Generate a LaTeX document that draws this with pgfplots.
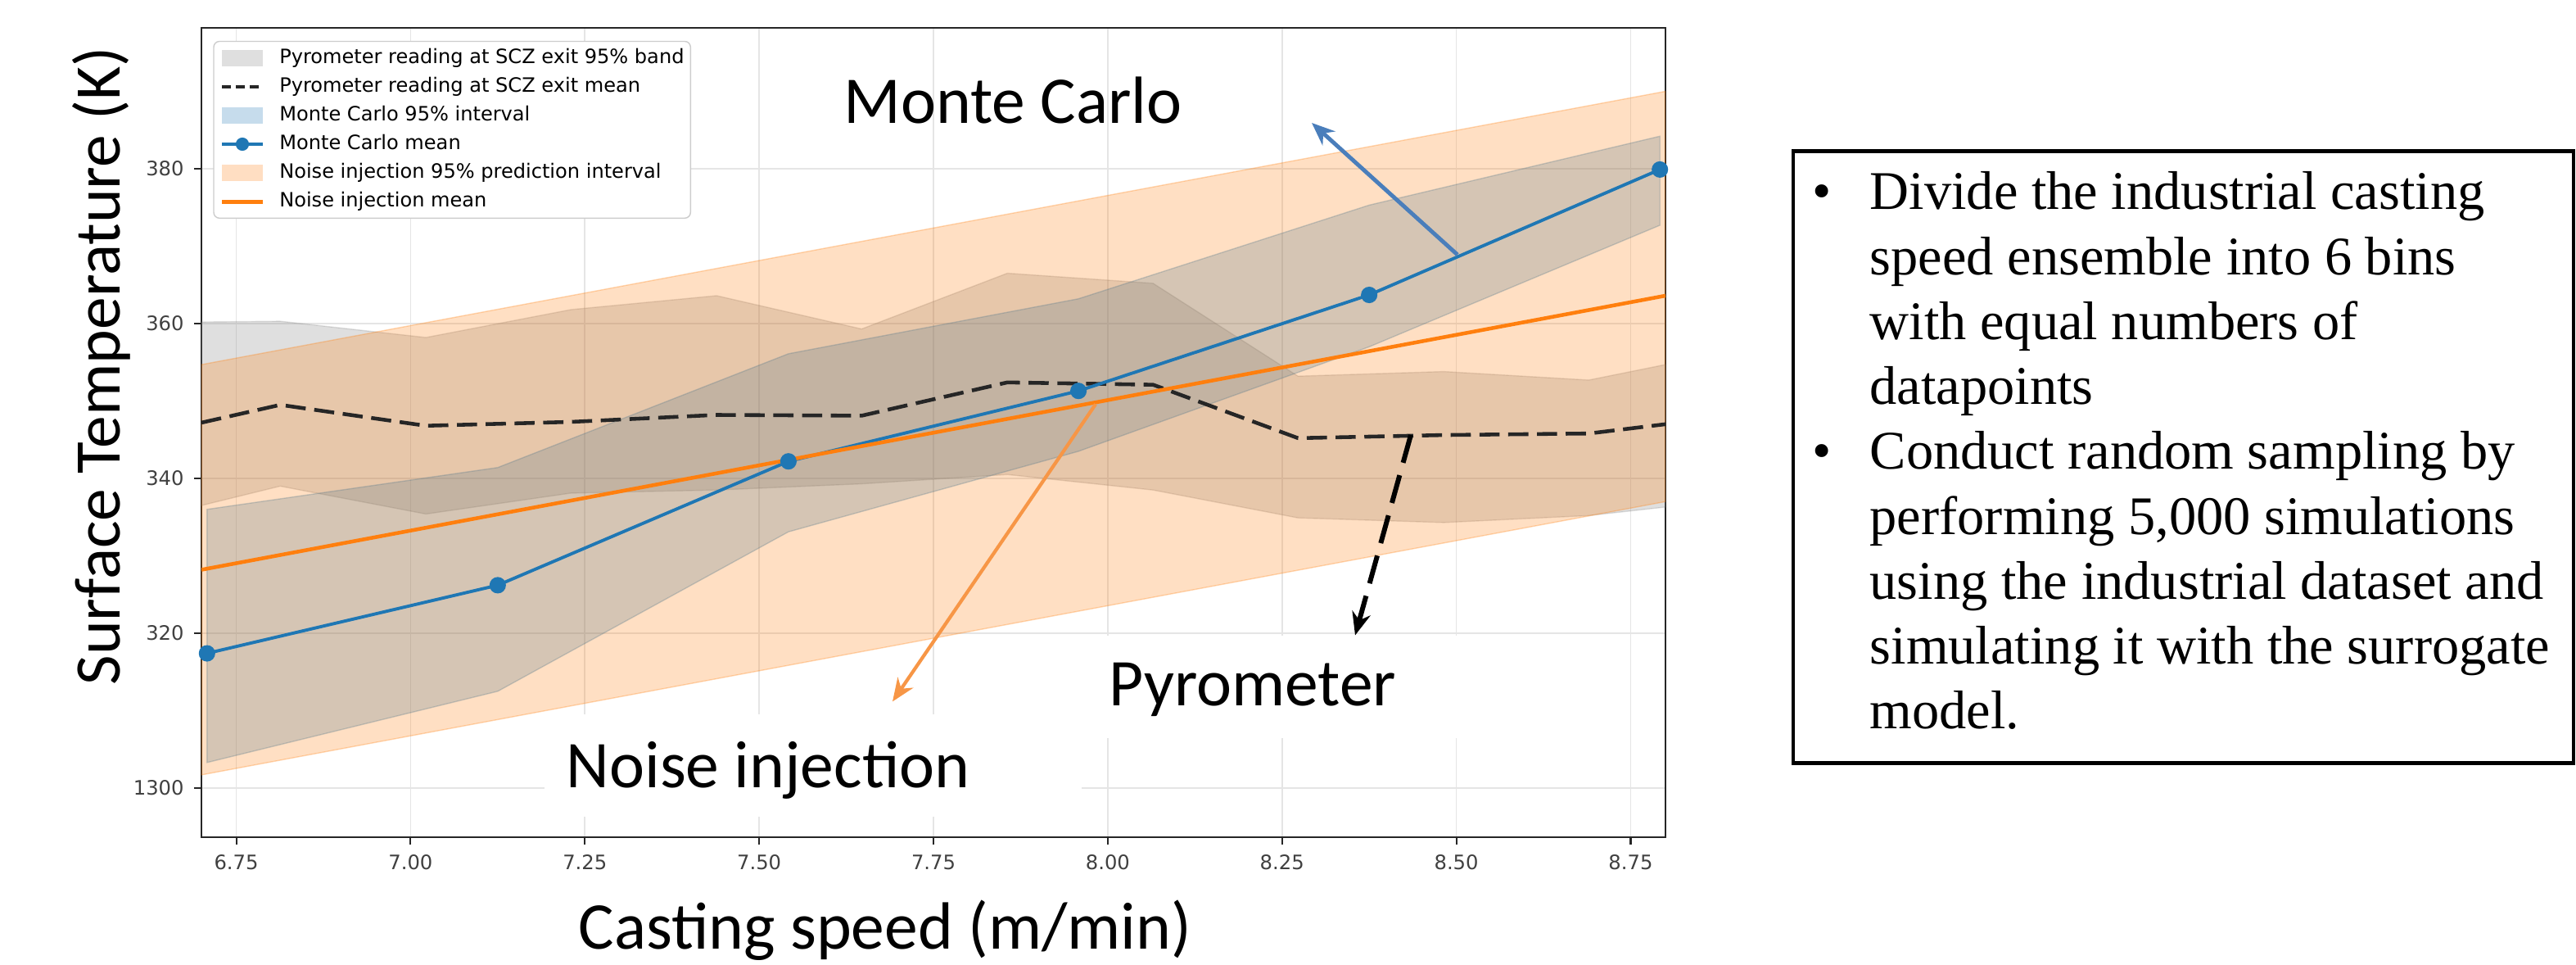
\documentclass[border=0pt]{standalone}
\usepackage{fontspec}
\setmainfont{Liberation Serif}
\newfontfamily\dejavu{DejaVu Sans}
\newfontfamily\carlito{Carlito}
\usepackage{pgfplots}
\pgfplotsset{compat=1.18}
\usetikzlibrary{arrows.meta}
\definecolor{cA}{RGB}{31,119,180}
\definecolor{cB}{RGB}{255,127,14}
\definecolor{arrBlue}{RGB}{74,126,187}
\definecolor{arrOrange}{RGB}{247,150,70}
\begin{document}
\begin{tikzpicture}
\path[use as bounding box] (-2.46cm,-1.55cm) rectangle (29.00cm,10.22cm);
\begin{axis}[
  at={(0,0)}, anchor=south west,
  scale only axis, width=17.88cm, height=9.88cm,
  xmin=6.70, xmax=8.80, ymin=293.65, ymax=398.2,
  xtick={6.75,7.00,7.25,7.50,7.75,8.00,8.25,8.50,8.75},
  xticklabels={6.75,7.00,7.25,7.50,7.75,8.00,8.25,8.50,8.75},
  ytick={300,320,340,360,380},
  yticklabels={1300,320,340,360,380},
  tick pos=left, tick align=outside,
  major tick length=0.09cm,
  tick style={black!85, line width=0.6pt},
  axis line style={black!85, line width=0.7pt},
  tick label style={font=\dejavu\fontsize{6.9}{8}\selectfont, text=black!75},
  grid=major, major grid style={black!10, line width=0.5pt},
  legend style={
    at={(0.008,0.984)}, anchor=north west,
    draw=black!20, fill=white, rounded corners=2pt,
    font=\dejavu\fontsize{6.85}{8}\selectfont,
    inner xsep=2.2pt, inner ysep=2.4pt,
    row sep=3.4pt, column sep=0.18cm,
    nodes={inner sep=0pt, text height=5.2pt, text depth=1.4pt},
  },
  legend cell align=left,
]
% Pyrometer 95% band
\addplot[draw=gray, draw opacity=0.25, line width=0.4pt, fill=gray, fill opacity=0.25, forget plot] coordinates {
 (6.700,360.2) (6.813,360.3) (7.022,358.2) (7.230,361.8) (7.439,363.6) (7.647,359.3)
 (7.856,366.5) (8.065,365.2) (8.273,353.2) (8.482,353.8) (8.690,352.7) (8.800,354.7)
 (8.800,336.3) (8.690,335.2) (8.482,334.3) (8.273,334.9) (8.065,338.5) (7.856,340.5)
 (7.647,339.3) (7.439,338.5) (7.230,338.1) (7.022,335.4) (6.813,339.0) (6.700,336.5)
} -- cycle;
% Monte Carlo 95% interval
\addplot[draw=cA, draw opacity=0.3, line width=0.4pt, fill=cA, fill opacity=0.25, forget plot] coordinates {
 (6.708,336.0) (7.125,341.4) (7.542,356.1) (7.958,363.2) (8.375,375.3) (8.792,384.2)
 (8.792,372.7) (8.375,357.0) (7.958,343.5) (7.542,333.1) (7.125,312.5) (6.708,303.3)
} -- cycle;
% Noise injection 95% prediction interval
\addplot[draw=cB, draw opacity=0.3, line width=0.4pt, fill=cB, fill opacity=0.25, forget plot] coordinates {
 (6.70,354.7) (8.80,390.0) (8.80,337.0) (6.70,301.7)
} -- cycle;
% Pyrometer mean
\addplot[black!85, line width=1.3pt, dash pattern=on 7pt off 3pt, forget plot] coordinates {
 (6.700,347.2) (6.813,349.5) (7.022,346.8) (7.230,347.3) (7.439,348.2) (7.647,348.1)
 (7.856,352.4) (8.065,352.1) (8.273,345.2) (8.482,345.6) (8.690,345.8) (8.800,347.0)
};
% Monte Carlo mean
\addplot[cA, line width=1.1pt, mark=*, mark size=2.3pt, forget plot] coordinates {
 (6.708,317.4) (7.125,326.2) (7.542,342.2) (7.958,351.3) (8.375,363.7) (8.792,379.9)
};
% Noise injection mean
\addplot[cB, line width=1.3pt, forget plot] coordinates {
 (6.70,328.2) (8.80,363.6)
};
% legend
\addlegendimage{legend image code/.code={\path[draw=none, fill=gray, fill opacity=0.25, sharp corners] (0cm,-0.1cm) rectangle (0.5cm,0.1cm);}}
\addlegendentry{Pyrometer reading at SCZ exit 95\% band}
\addlegendimage{legend image code/.code={\path[draw=black!85, line width=1.1pt, dash pattern=on 3.2pt off 1.6pt, sharp corners] (0cm,0cm) -- (0.5cm,0cm);}}
\addlegendentry{Pyrometer reading at SCZ exit mean}
\addlegendimage{legend image code/.code={\path[draw=none, fill=cA, fill opacity=0.25, sharp corners] (0cm,-0.1cm) rectangle (0.5cm,0.1cm);}}
\addlegendentry{Monte Carlo 95\% interval}
\addlegendimage{legend image code/.code={\path[draw=cA, line width=1.1pt, sharp corners] (0cm,0cm) -- (0.5cm,0cm); \path[draw=none, fill=cA] (0.25cm,0cm) circle (2.3pt);}}
\addlegendentry{Monte Carlo mean}
\addlegendimage{legend image code/.code={\path[draw=none, fill=cB, fill opacity=0.25, sharp corners] (0cm,-0.1cm) rectangle (0.5cm,0.1cm);}}
\addlegendentry{Noise injection 95\% prediction interval}
\addlegendimage{legend image code/.code={\path[draw=cB, line width=1.3pt, sharp corners] (0cm,0cm) -- (0.5cm,0cm);}}
\addlegendentry{Noise injection mean}
\end{axis}
% white text boxes covering gridlines
\fill[white] (4.19cm,0.25cm) rectangle (10.75cm,1.50cm);
\fill[white] (10.78cm,1.21cm) rectangle (16.54cm,2.46cm);
% annotation arrows
\draw[arrBlue, line width=1.4pt, -{Stealth[length=8pt,width=6.5pt]}] (15.34cm,7.11cm) -- (13.56cm,8.72cm);
\draw[arrOrange, line width=1.2pt, -{Stealth[length=8pt,width=6.5pt]}] (10.92cm,5.285cm) -- (8.44cm,1.656cm);
\draw[black, line width=1.7pt, dash pattern=on 10pt off 4.5pt, -{Stealth[length=8pt,width=6.5pt]}] (14.77cm,4.91cm) -- (14.09cm,2.465cm);
% annotation texts
\node[anchor=base west, inner sep=0pt, font=\carlito\fontsize{23.2}{27}\selectfont] at (7.84cm,8.71cm) {Monte Carlo};
\node[anchor=base west, inner sep=0pt, font=\carlito\fontsize{23.2}{27}\selectfont] at (4.45cm,0.606cm) {Noise injection};
\node[anchor=base west, inner sep=0pt, font=\carlito\fontsize{23.2}{27}\selectfont] at (11.08cm,1.604cm) {Pyrometer};
% axis labels
\node[anchor=base, inner sep=0pt, font=\carlito\fontsize{23.2}{27}\selectfont] at (8.35cm,-1.36cm) {Casting speed (m/min)};
\node[anchor=base, rotate=90, inner sep=0pt, font=\carlito\fontsize{22.6}{27}\selectfont] at (-0.99cm,5.75cm) {Surface Temperature (K)};
% right text box
\draw[black, line width=1.4pt] (19.44cm,0.905cm) rectangle (28.97cm,8.377cm);
\begin{scope}[every node/.style={anchor=base west, inner sep=0pt, font=\fontsize{18.9}{22.5}\selectfont}]
\node at (19.67cm,7.660cm) {•};
\node at (20.37cm,7.660cm) {Divide the industrial casting};
\node at (20.37cm,6.868cm) {speed ensemble into 6 bins};
\node at (20.37cm,6.076cm) {with equal numbers of};
\node at (20.37cm,5.284cm) {datapoints};
\node at (19.67cm,4.492cm) {•};
\node at (20.37cm,4.492cm) {Conduct random sampling by};
\node at (20.37cm,3.700cm) {performing 5,000 simulations};
\node at (20.37cm,2.908cm) {using the industrial dataset and};
\node at (20.37cm,2.116cm) {simulating it with the surrogate};
\node at (20.37cm,1.324cm) {model.};
\end{scope}
\end{tikzpicture}
\end{document}
